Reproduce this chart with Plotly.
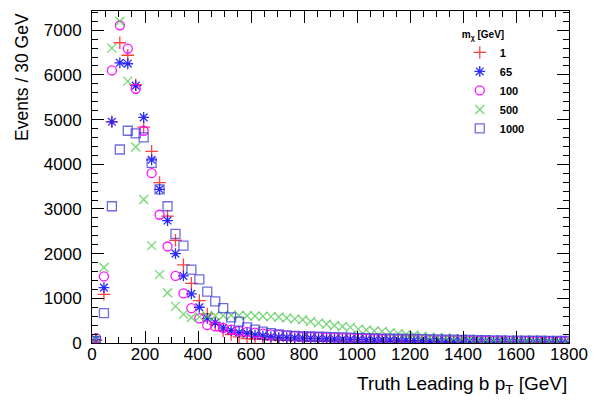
import plotly.graph_objects as go

bin_width = 30
n_bins = 60
bin_centers = [bin_width * i + bin_width / 2 for i in range(n_bins)]

mass_labels = ["1", "65", "100", "500", "1000"]

events_m1 = [60, 1090, 4950, 6720, 6440, 5780, 4830, 4290, 3590, 2840,
             2300, 1750, 1335, 950, 650, 420, 270, 190, 135,
             100, 90, 80, 70, 65, 60, 55, 52, 50, 48, 45, 42, 40, 38, 36, 35, 33, 32, 30, 28,
             27, 26, 25, 24, 23, 22, 21, 20, 19, 18, 17, 16, 16, 15, 15, 14, 14, 13, 13, 12, 12]

events_m65 = [80, 1240, 4950, 6270, 6250, 5760, 5050, 4100, 3440, 2740,
              2000, 1500, 1100, 800, 550, 460, 340, 280, 235, 215,
              180, 160, 140, 128, 120,
              115, 110, 105, 100, 95, 90, 85, 82, 80, 75, 72, 70, 65, 62, 60, 55, 52, 50, 48, 45,
              42, 40, 38, 36, 35, 33, 32, 30, 28, 27, 26, 25, 24, 23, 22]

events_m100 = [110, 1490, 6100, 7110, 6590, 5690, 4750, 3800, 2870, 2160,
               1500, 1110, 780, 550, 400, 370, 340, 300, 270, 250,
               230, 210, 195, 180, 165, 155, 145, 140, 130, 125, 120, 115, 110, 105, 100, 95, 90, 85, 82, 78,
               75, 72, 68, 65, 62, 60, 57, 55, 52, 50, 48, 46, 44, 42, 40, 38, 36, 35, 33, 32]

events_m500 = [90, 1690, 6600, 7200, 5860, 4385, 3210, 2180, 1530, 1125,
               820, 640, 570, 585, 600, 610, 615, 620, 615, 610,
               605, 600, 590, 580, 560, 540, 520, 480, 450, 420,
               390, 370, 350, 310, 290, 270, 260, 230, 210, 190,
               180, 150, 130, 120, 110, 100, 90, 85, 80, 70,
               65, 60, 55, 50, 45, 45, 40, 35, 35, 30]

events_m1000 = [40, 670, 3060, 4330, 4750, 4690, 4600, 4030, 3440, 3060,
                2440, 2180, 1640, 1425, 1150, 930, 780, 575, 480, 350,
                300, 255, 220,
                190, 170, 160, 150, 145, 140, 135, 130, 125, 120, 115, 110, 105, 100, 100, 95, 90, 90,
                85, 80, 80, 75, 75, 70, 70, 65, 65, 60, 60, 55, 55, 50, 50, 50, 45, 45, 45]

series = [
    (mass_labels[0], events_m1, "cross-thin-open", "rgba(255,30,30,0.85)"),
    (mass_labels[1], events_m65, "asterisk-open", "rgba(20,20,255,0.9)"),
    (mass_labels[2], events_m100, "circle-open", "rgba(255,0,255,0.95)"),
    (mass_labels[3], events_m500, "x-thin-open", "rgba(70,200,70,0.75)"),
    (mass_labels[4], events_m1000, "square-open", "rgba(60,60,215,0.75)"),
]

fig = go.Figure()
for name, vals, sym, col in series:
    fig.add_trace(go.Scatter(
        x=bin_centers, y=vals, mode="markers", name=name,
        marker=dict(symbol=sym, size=9, color=col, line=dict(color=col, width=1.3)),
    ))

font_main = "Liberation Sans, Arial, Helvetica, sans-serif"

# page body has an 8px margin; figure is sized so the page fills 612x412
fig.update_layout(
    width=604, height=404,
    margin=dict(l=84, r=43, t=3, b=69, autoexpand=False),
    paper_bgcolor="white", plot_bgcolor="white",
    font=dict(family=font_main, color="black", size=16),
    showlegend=True,
    legend=dict(
        x=0.771, y=0.958, xanchor="left", yanchor="top",
        bgcolor="rgba(0,0,0,0)",
        font=dict(family=font_main, size=11, color="black", weight="bold"),
        title=dict(text="m<sub>χ</sub> [GeV]", font=dict(family=font_main, size=10, color="black", weight="bold")),
        itemwidth=30,
        tracegroupgap=0,
    ),
    xaxis=dict(
        range=[0, 1800], dtick=200, tick0=0, automargin=False,
        showgrid=False, zeroline=False,
        showline=True, linecolor="black", linewidth=1, mirror="allticks",
        ticks="inside", ticklen=12, tickwidth=1, tickcolor="black",
        minor=dict(dtick=50, ticks="inside", ticklen=6, tickcolor="black", showgrid=False),
        tickfont=dict(size=17),
        ticklabelstandoff=-4,
    ),
    yaxis=dict(
        range=[0, 7430], dtick=1000, tick0=0, automargin=False,
        showgrid=False, zeroline=False,
        showline=True, linecolor="black", linewidth=1, mirror="allticks",
        ticks="inside", ticklen=12, tickwidth=1, tickcolor="black",
        minor=dict(dtick=200, ticks="inside", ticklen=6, tickcolor="black", showgrid=False),
        tickfont=dict(size=17),
        ticklabelstandoff=6,
    ),
    annotations=[
        dict(text="Truth Leading b p<sub>T</sub> [GeV]", xref="paper", yref="paper",
             x=1.0, y=-0.125, xanchor="right", yanchor="middle", showarrow=False,
             font=dict(size=19, family=font_main)),
        dict(text="Events / 30 GeV", xref="paper", yref="paper",
             x=-0.147, y=1.0, xanchor="center", yanchor="top", textangle=-90, showarrow=False,
             font=dict(size=17.5, family=font_main)),
    ],
)

fig.write_html("out.html")
